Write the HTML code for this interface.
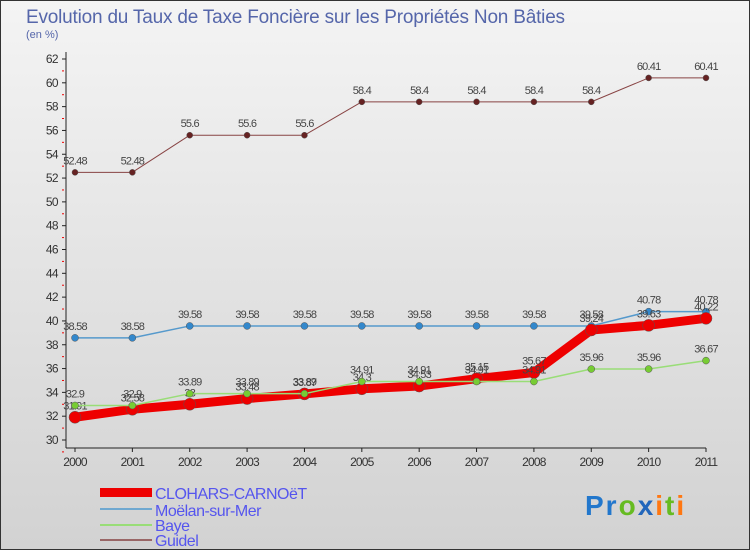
<!DOCTYPE html>
<html><head><meta charset="utf-8"><style>
body{margin:0;width:750px;height:550px;overflow:hidden;font-family:"Liberation Sans",sans-serif}
</style></head><body>
<svg id="c" width="750" height="550" xmlns="http://www.w3.org/2000/svg">
<defs><linearGradient id="bg" x1="0" y1="0" x2="0" y2="1"><stop offset="0" stop-color="#f4f4f4"/><stop offset="1" stop-color="#d2d2d2"/></linearGradient></defs>
<rect x="0.5" y="0.5" width="749" height="549" fill="url(#bg)" stroke="#333"/>
<text x="26" y="23" font-size="19" fill="#5566aa" letter-spacing="-0.2">Evolution du Taux de Taxe Foncière sur les Propriétés Non Bâties</text>
<text x="26" y="38" font-size="11" fill="#5566aa">(en %)</text>
<g id="axes"></g><g id="series"></g>
<g font-size="16" fill="#5555ee">
<rect x="100" y="488" width="52" height="9" fill="#ee0000"/>
<text x="155" y="499" letter-spacing="-0.5">CLOHARS-CARNOëT</text>
<line x1="100" y1="509" x2="152" y2="509" stroke="#6fa8d0" stroke-width="2"/>
<text x="155" y="516" letter-spacing="-0.5">Moëlan-sur-Mer</text>
<line x1="100" y1="525" x2="152" y2="525" stroke="#99dd77" stroke-width="2"/>
<text x="155" y="531" letter-spacing="-0.5">Baye</text>
<line x1="100" y1="540" x2="152" y2="540" stroke="#996666" stroke-width="2"/>
<text x="155" y="546" letter-spacing="-0.5">Guidel</text>
</g>
<text x="585" y="515" font-size="28" font-weight="bold" letter-spacing="2"><tspan fill="#2277cc">Pr</tspan><tspan fill="#66bb22">o</tspan><tspan fill="#2266bb">x</tspan><tspan fill="#ff7711">i</tspan><tspan fill="#66bb22">t</tspan><tspan fill="#ff7711">i</tspan></text>
</svg>
<script>
const years=["2000","2001","2002","2003","2004","2005","2006","2007","2008","2009","2010","2011"];
const clohars=[31.91,32.58,33,33.48,33.87,34.3,34.53,35.15,35.67,39.24,39.63,40.22];
const moelan=[38.58,38.58,39.58,39.58,39.58,39.58,39.58,39.58,39.58,39.58,40.78,40.78];
const baye=[32.9,32.9,33.89,33.89,33.89,34.91,34.91,34.91,34.91,35.96,35.96,36.67];
const guidel=[52.48,52.48,55.6,55.6,55.6,58.4,58.4,58.4,58.4,58.4,60.41,60.41];
const yTicks=[30,32,34,36,38,40,42,44,46,48,50,52,54,56,58,60,62];
const NS="http://www.w3.org/2000/svg";
const xs=i=>75+i*(706-75)/11, ys=v=>440-(v-30)*(440-59)/32;
function mk(t,a,p){const e=document.createElementNS(NS,t);for(const k in a)e.setAttribute(k,a[k]);p.appendChild(e);return e;}
const ax=document.getElementById('axes');
mk('line',{x1:66,y1:52,x2:66,y2:448,stroke:'#222'},ax);
mk('line',{x1:66,y1:448,x2:706,y2:448,stroke:'#222'},ax);
yTicks.forEach(v=>{const y=ys(v);
 mk('line',{x1:62,y1:y,x2:66,y2:y,stroke:'#222'},ax);
 mk('line',{x1:62,y1:y+11.9,x2:64,y2:y+11.9,stroke:'#e00'},ax);
 const t=mk('text',{x:58,y:y+4,'font-size':12,'text-anchor':'end',fill:'#333','letter-spacing':'-0.6'},ax);t.textContent=v;
 });
years.forEach((yr,i)=>{const x=xs(i);
 mk('line',{x1:x,y1:448,x2:x,y2:452,stroke:'#222'},ax);
 const t=mk('text',{x:x,y:466,'font-size':12,'text-anchor':'middle',fill:'#333','letter-spacing':'-0.8'},ax);t.textContent=yr;
 });
const sg=document.getElementById('series');
function series(name,vals,col,w,r,dot){
 const g=mk('g',{},sg);
 mk('polyline',{points:vals.map((v,i)=>xs(i)+','+ys(v)).join(' '),fill:'none',stroke:col,'stroke-width':w,'stroke-linejoin':'round'},g);
 vals.forEach((v,i)=>{const c=mk('circle',{cx:xs(i),cy:ys(v),r:r,fill:dot,stroke:'#555','stroke-width':0.5},g);
  
  const t=mk('text',{x:xs(i),y:ys(v)-8,'font-size':11,'text-anchor':'middle',fill:'#444','letter-spacing':'-0.8'},g);t.textContent=v;});
}
series('guidel',guidel,'#884444',1,3,'#662222');
series('moelan',moelan,'#5599cc',1.5,3.5,'#3388cc');
series('clohars',clohars,'#ee0000',9,6,'#ee0000');
series('baye',baye,'#99dd77',1.5,3.5,'#77cc33');
</script>
</body></html>
